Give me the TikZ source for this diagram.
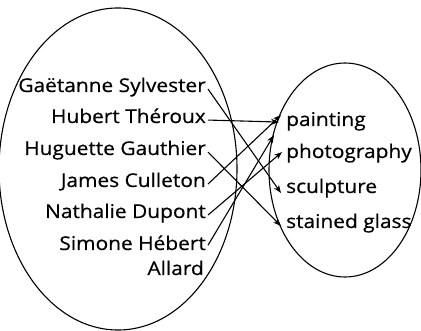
\documentclass[tikz,border=0pt]{standalone}
\usepackage{fontspec}
\setmainfont{Open Sans}[FakeStretch=1.1,FakeBold=0.5]
\usetikzlibrary{arrows.meta}
\begin{document}
\begin{tikzpicture}[x=1pt,y=-1pt,
  lbl/.style={inner sep=0pt,text height=1.1ex,text depth=0pt,font=\fontsize{19}{22}\selectfont},
  namel/.style={lbl,anchor=base east},
  item/.style={lbl,anchor=base west},
  conn/.style={line width=1.1pt,-{Stealth[length=8pt,width=6pt,inset=2.5pt]}},
  set/.style={line width=1.1pt}]
\useasboundingbox (0,0) rectangle (421,331);
\draw[set] (118,169) ellipse [x radius=119, y radius=161];
\draw[set] (345,170) ellipse [x radius=76, y radius=107];
\node[namel] (gs) at (206,92) {Gaëtanne Sylvester};
\node[namel] (ht) at (206,123) {Hubert Théroux};
\node[namel] (hg) at (206,155) {Huguette Gauthier};
\node[namel] (jc) at (206,187) {James Culleton};
\node[namel] (nd) at (206,218) {Nathalie Dupont};
\node[namel] (sh) at (206,250) {Simone Hébert};
\node[namel] (al) at (204,275) {Allard};
\node[item] (pa) at (286,126) {painting};
\node[item] (ph) at (286,158) {photography};
\node[item] (sc) at (286,193) {sculpture};
\node[item] (sg) at (286,228) {stained glass};
\coordinate (shend) at ([xshift=2pt,yshift=5pt]sh.south east);
\draw[conn] ([xshift=2pt]gs.east) -- ([xshift=-5pt,yshift=-3pt]sc.west);
\draw[conn] ([xshift=2pt]ht.east) -- ([xshift=-7pt,yshift=1pt]pa.west);
\draw[conn] ([xshift=2pt]hg.east) -- ([xshift=-5pt,yshift=-1pt]sg.west);
\draw[conn] ([xshift=2pt]jc.east) -- ([xshift=-5pt,yshift=8pt]pa.west);
\draw[conn] ([xshift=2pt]nd.east) -- ([xshift=-4pt,yshift=3pt]ph.west);
\draw[conn] (shend) -- ([xshift=-12pt,yshift=20pt]ph.west);
\end{tikzpicture}
\end{document}
